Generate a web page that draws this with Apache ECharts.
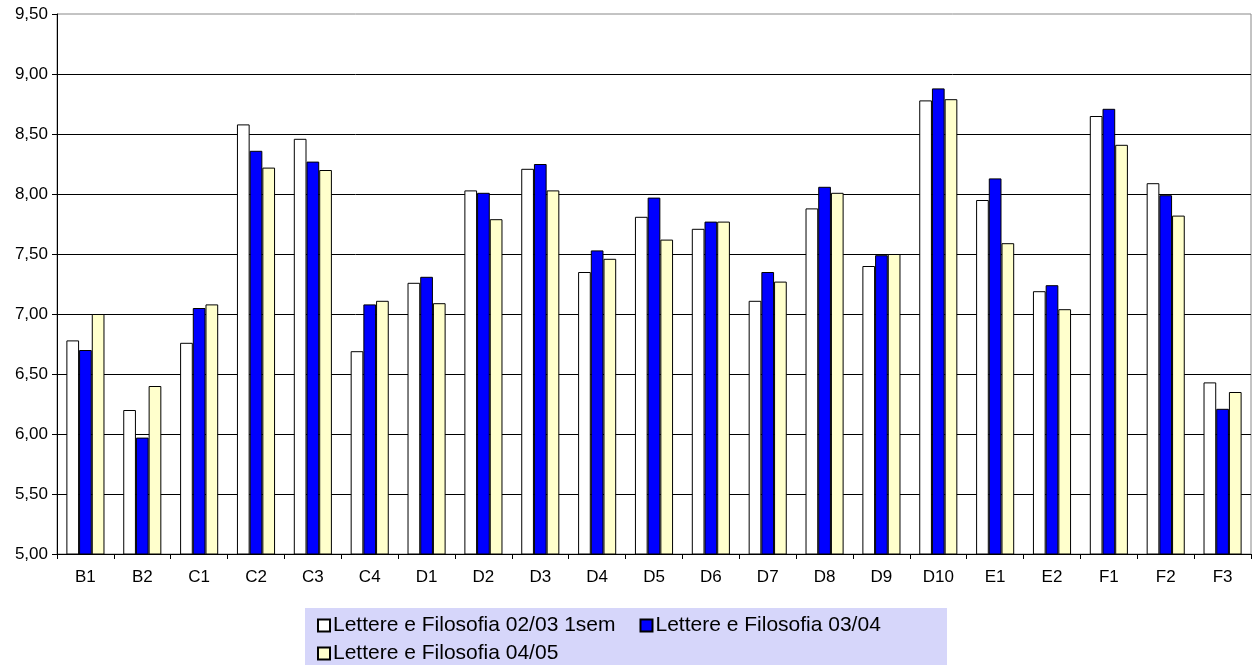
<!DOCTYPE html>
<html>
<head>
<meta charset="utf-8">
<script src="https://cdn.jsdelivr.net/npm/echarts@6/dist/echarts.min.js"></script>
<style>
html,body{margin:0;padding:0;background:#fff;}
#chart{width:1252px;height:665px;}
</style>
</head>
<body>
<div id="chart"></div>
<script>
const categories = ['B1','B2','C1','C2','C3','C4','D1','D2','D3','D4','D5','D6','D7','D8','D9','D10','E1','E2','F1','F2','F3'];
const seriesNames = ['Lettere e Filosofia 02/03 1sem','Lettere e Filosofia 03/04','Lettere e Filosofia 04/05'];
const lf0203 = [6.78,6.20,6.76,8.58,8.46,6.69,7.26,8.03,8.21,7.35,7.81,7.71,7.11,7.88,7.40,8.78,7.95,7.19,8.65,8.09,6.43];
const lf0304 = [6.70,5.97,7.05,8.36,8.27,7.08,7.31,8.01,8.25,7.53,7.97,7.77,7.35,8.06,7.49,8.88,8.13,7.24,8.71,7.99,6.21];
const lf0405 = [7.00,6.40,7.08,8.22,8.20,7.11,7.09,7.79,8.03,7.46,7.62,7.77,7.27,8.01,7.50,8.79,7.59,7.04,8.41,7.82,6.35];
const colors = ['#FFFFFF','#0000FF','#FFFFCC'];
const valuesList = [lf0203, lf0304, lf0405];

const font = 'Liberation Sans, Arial, sans-serif';
const chart = echarts.init(document.getElementById('chart'), null, {renderer:'canvas'});
const series = seriesNames.map((n,i)=>({
  name:n, type:'bar', data:valuesList[i],
  barGap:'0%', barCategoryGap:'33%',
  itemStyle:{color:colors[i], borderColor:'#000', borderWidth:1},
  emphasis:{disabled:true}
}));
chart.setOption({
  animation:false,
  backgroundColor:'#fff',
  graphic:[{type:'rect', left:305, top:608, shape:{width:642, height:60}, style:{fill:'#D6D6FA'}, z:-1, silent:true}],
  grid:{left:57, right:1, top:14, bottom:111, show:true, borderColor:'#888', borderWidth:1, backgroundColor:'transparent'},
  legend:[
    {data:[seriesNames[0],seriesNames[1]], left:317, top:615, itemWidth:12, itemHeight:12, itemGap:24, padding:0,
     icon:'rect', textStyle:{fontFamily:font, fontSize:21, color:'#000', padding:[0,0,0,-2]}, selectedMode:false},
    {data:[seriesNames[2]], left:317, top:643, itemWidth:12, itemHeight:12, padding:0,
     icon:'rect', textStyle:{fontFamily:font, fontSize:21, color:'#000', padding:[0,0,0,-2]}, selectedMode:false}
  ],
  xAxis:{type:'category', data:categories,
    axisLine:{lineStyle:{color:'#000', width:1}},
    axisTick:{show:true, length:5, lineStyle:{color:'#000'}},
    axisLabel:{fontFamily:font, fontSize:17, color:'#000', margin:15}},
  yAxis:{type:'value', min:5, max:9.5, interval:0.5,
    axisLine:{show:true, lineStyle:{color:'#000', width:1}},
    axisTick:{show:true, length:5, lineStyle:{color:'#000'}},
    axisLabel:{fontFamily:font, fontSize:17, color:'#000', margin:9,
      formatter:v=>v.toFixed(2).replace('.',',')},
    splitLine:{show:true, showMaxLine:false, lineStyle:{color:'#000', width:1}}},
  series:series
});
</script>
</body>
</html>
